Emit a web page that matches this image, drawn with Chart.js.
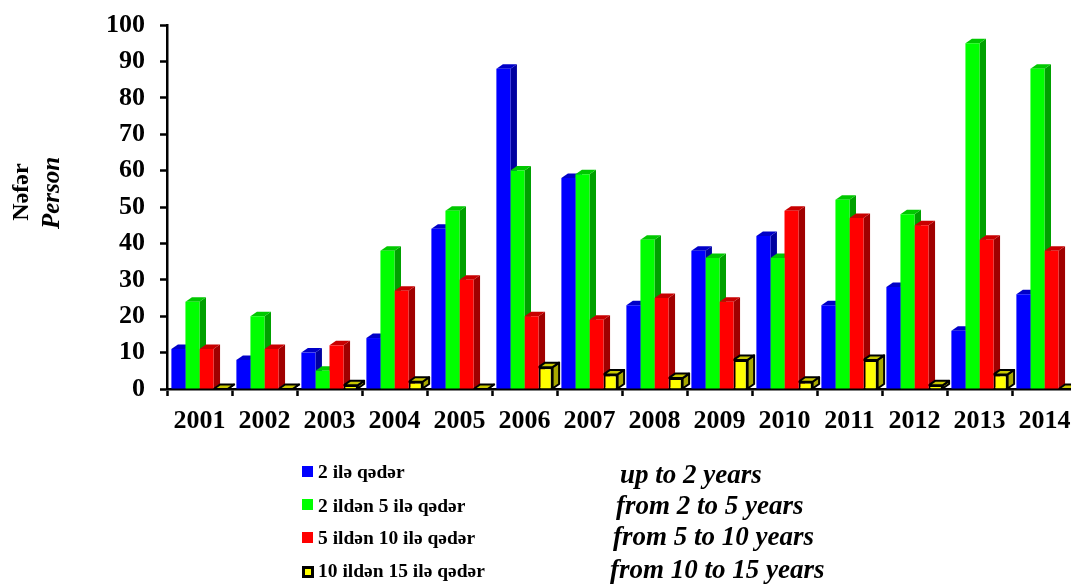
<!DOCTYPE html>
<html>
<head>
<meta charset="utf-8">
<script src="https://cdn.jsdelivr.net/npm/chart.js@4"></script>
<style>
html,body{margin:0;padding:0;background:#fff;overflow:hidden;width:1071px;height:584px}
#wrap{position:relative;width:1071px;height:584px;overflow:hidden}
canvas{position:absolute;left:0;top:0}
.t{position:absolute;white-space:nowrap;color:#000;font-family:"Liberation Serif",serif;font-weight:bold;line-height:1}
.az{font-size:19.5px}
.en{font-size:27px;font-style:italic}
.sw{position:absolute;width:11px;height:11px;box-sizing:border-box}
.rot{transform:translate(-50%,-50%) rotate(-90deg)}
</style>
</head>
<body>
<div id="wrap"><canvas id="c" width="1090" height="584"></canvas></div>
<script>
const categories = ["2001","2002","2003","2004","2005","2006","2007","2008","2009","2010","2011","2012","2013","2014"];
const upTo2     = [11, 8,10,14,44,88,58,23,38,42,23,28,16,26];
const from2to5  = [24,20, 5,38,49,60,59,41,36,36,52,48,95,88];
const from5to10 = [11,11,12,27,30,20,19,25,24,49,47,45,41,38];
const from10to15= [ 0, 0, 1, 2, 0, 6, 4, 3, 8, 2, 8, 1, 4, 0];
const namesAz = ["2 ilə qədər","2 ildən 5 ilə qədər","5 ildən 10 ilə qədər","10 ildən 15 ilə qədər"];
const namesEn = ["up to 2 years","from 2 to 5 years","from 5 to 10 years","from 10 to 15 years"];
const yTitleAz = "Nəfər", yTitleEn = "Person";

const fronts = ["#0000ff","#00ff00","#ff0000","#ffff00"];
const tops   = ["#0000c8","#00c800","#c80000","#c8c800"];
const sides  = ["#0000a0","#00a000","#a00000","#a8a800"];
const DX = 6.5, DY = 4.5;

const bar3d = {
  id:"bar3d",
  beforeDatasetsDraw(chart){
    const ctx = chart.ctx;
    ctx.save();
    ctx.lineJoin = "round";
    chart.data.datasets.forEach((ds,i)=>{
      const outlined = ds.borderWidth > 0;
      chart.getDatasetMeta(i).data.forEach(b=>{
        const l = b.x - b.width/2, r = b.x + b.width/2, t = b.y, base = b.base;
        const poly = (pts,fill)=>{
          ctx.beginPath();
          pts.forEach((p,k)=>k?ctx.lineTo(p[0],p[1]):ctx.moveTo(p[0],p[1]));
          ctx.closePath();
          ctx.fillStyle = fill; ctx.fill();
          if(outlined){ctx.strokeStyle="#000";ctx.lineWidth=2;ctx.stroke();}
        };
        poly([[r,t],[r+DX,t-DY],[r+DX,base-DY],[r,base]],sides[i]);
        poly([[l,t],[l+DX,t-DY],[r+DX,t-DY],[r,t]],tops[i]);
      });
    });
    ctx.restore();
  }
};

const series = [upTo2,from2to5,from5to10,from10to15];
const fontTick = {family:"'Liberation Serif',serif",weight:"bold",size:26};
new Chart(document.getElementById("c"),{
  type:"bar",
  plugins:[bar3d],
  data:{labels:categories,datasets:series.map((d,i)=>({
    label:namesAz[i],data:d,backgroundColor:fronts[i],
    borderColor:"#000",borderWidth:i===3?2:0,
    barPercentage:1,categoryPercentage:0.865
  }))},
  options:{
    responsive:false,animation:false,
    layout:{padding:{left:0,right:13,top:25,bottom:0}},
    plugins:{legend:{display:false},title:{display:false},tooltip:{enabled:false}},
    scales:{
      x:{
        offset:true,
        grid:{drawOnChartArea:false,drawTicks:true,tickLength:7,tickColor:"#000",tickWidth:2.5,offset:true},
        border:{color:"#000",width:2.5},
        ticks:{color:"#000",font:fontTick,padding:10,maxRotation:0,autoSkip:false},
        afterFit(s){s.height=195;s.paddingLeft=0;s.paddingRight=0;}
      },
      y:{
        min:0,max:100,
        grid:{drawOnChartArea:false,drawTicks:true,tickLength:7,tickColor:"#000",tickWidth:2.5},
        border:{color:"#000",width:2.5},
        ticks:{color:"#000",font:fontTick,padding:15,stepSize:10},
        afterFit(s){s.width=167;s.paddingTop=0;s.paddingBottom=0;}
      }
    }
  }
});

const wrap = document.getElementById("wrap");
function txt(s,cls,x,y){const e=document.createElement("div");e.className="t "+cls;e.textContent=s;e.style.left=x+"px";e.style.top=y+"px";wrap.appendChild(e);return e;}
const azY=[462,496,528,561], enY=[461,492,523,556], enX=[620,616,613,610], swY=[466,499,532,566];
namesAz.forEach((n,i)=>{
  const sw=document.createElement("div");sw.className="sw";
  sw.style.left="302px";sw.style.top=swY[i]+"px";sw.style.background=fronts[i];
  if(i===3){sw.style.border="3px solid #000";sw.style.width="12px";sw.style.height="12px";}
  wrap.appendChild(sw);
  txt(n,"az",318,azY[i]);
  txt(namesEn[i],"en",enX[i],enY[i]);
});
txt(yTitleAz,"rot",20,192).style.fontSize="24px";
const p=txt(yTitleEn,"rot",50,193);p.style.fontSize="25px";p.style.fontStyle="italic";
</script>
</body>
</html>
